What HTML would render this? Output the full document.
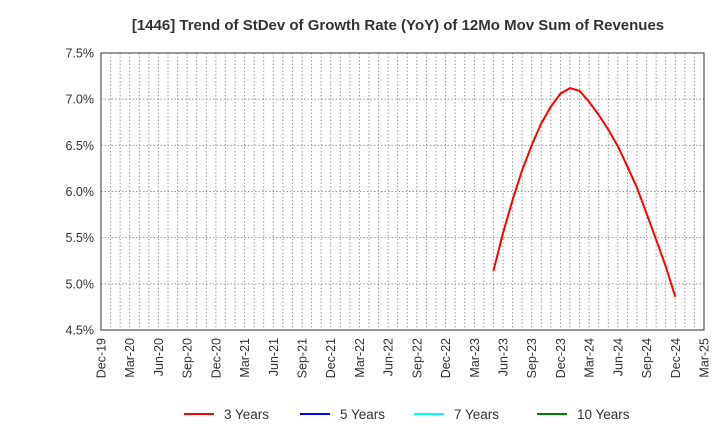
<!DOCTYPE html>
<html><head><meta charset="utf-8"><style>
body{margin:0;background:#fff;}
svg text{font-family:"Liberation Sans",sans-serif;fill:#333;}
</style></head><body>
<svg id="chart" width="720" height="440" xmlns="http://www.w3.org/2000/svg">
<text x="398" y="30" text-anchor="middle" font-size="15" font-weight="bold">[1446]  Trend of StDev of Growth Rate (YoY) of 12Mo Mov Sum of Revenues</text>
<g id="grid"></g><g id="axes"></g><g id="series"></g><g id="legend"></g>
</svg>
<script>
const tickLabelsY=["4.5%","5.0%","5.5%","6.0%","6.5%","7.0%","7.5%"];
const tickValuesY=[4.5,5.0,5.5,6.0,6.5,7.0,7.5];
const tickLabelsX=["Dec-19","Mar-20","Jun-20","Sep-20","Dec-20","Mar-21","Jun-21","Sep-21","Dec-21","Mar-22","Jun-22","Sep-22","Dec-22","Mar-23","Jun-23","Sep-23","Dec-23","Mar-24","Jun-24","Sep-24","Dec-24","Mar-25"];
const seriesStartMonth=41; // months after Dec-19 (May-23)
const series3Y=[5.14,5.55,5.91,6.23,6.50,6.74,6.92,7.06,7.12,7.09,6.97,6.83,6.67,6.49,6.27,6.04,5.76,5.48,5.19,4.86];
const legendNames=["3 Years","5 Years","7 Years","10 Years"];
const legendColors=["#ff0000","#0000ff","#00ffff","#008000"];

const L=101,R=704,T=53,B=330,NM=63;
const xs=m=>L+(R-L)*m/NM;
const ys=v=>B-(v-4.5)/3*(B-T);
const NS="http://www.w3.org/2000/svg";
function mk(p,tag,at){const e=document.createElementNS(NS,tag);for(const k in at)e.setAttribute(k,at[k]);p.appendChild(e);return e;}
const grid=document.getElementById('grid'),axes=document.getElementById('axes'),ser=document.getElementById('series'),leg=document.getElementById('legend');
for(let m=1;m<NM;m++){const l=mk(grid,'line',{x1:xs(m),x2:xs(m),y1:T,y2:B,stroke:'#999','stroke-dasharray':'1.5,2','stroke-width':1});

}
tickValuesY.forEach((v,i)=>{
 if(i>0&&i<tickValuesY.length-1){const g=mk(grid,'line',{x1:L,x2:R,y1:ys(v),y2:ys(v),stroke:'#999','stroke-dasharray':'1.5,2'});
 
 }
 const t=mk(axes,'text',{x:L-7,y:ys(v)+4.5,'text-anchor':'end','font-size':12.5});t.textContent=tickLabelsY[i];
 
 
});
tickLabelsX.forEach((s,i)=>{const x=xs(i*3);
 const t=mk(axes,'text',{transform:`translate(${x+4.5},338) rotate(-90)`,'text-anchor':'end','font-size':12.5});t.textContent=s;
 
 });
const fr=mk(axes,'rect',{x:L,y:T,width:R-L,height:B-T,fill:'none',stroke:'#333','stroke-width':1});


const pts=series3Y.map((v,i)=>xs(seriesStartMonth+i).toFixed(1)+','+ys(v).toFixed(1)).join(' ');
const pl=mk(ser,'polyline',{points:pts,fill:'none',stroke:'#ff0000','stroke-width':2});


const lx=[184,300,414,537];
legendNames.forEach((n,i)=>{
 const ln=mk(leg,'line',{x1:lx[i],x2:lx[i]+30,y1:414,y2:414,stroke:legendColors[i],'stroke-width':2});
 
 
 const t=mk(leg,'text',{x:lx[i]+40,y:419,'font-size':13.5});t.textContent=n;
 
 
});
</script>
</body></html>
